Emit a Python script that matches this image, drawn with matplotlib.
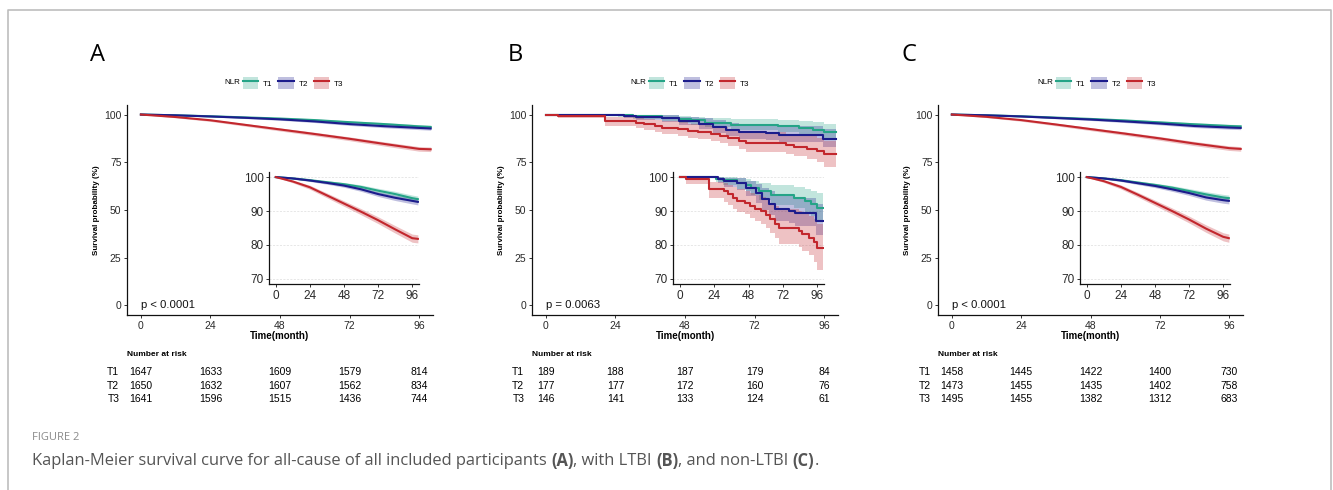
"""Kaplan-Meier curves by NLR tertile: all participants, LTBI, non-LTBI."""
import matplotlib
matplotlib.use("Agg")
import matplotlib.pyplot as plt
from matplotlib.lines import Line2D
from matplotlib.patches import Patch
from matplotlib.transforms import blended_transform_factory

W, H = 1333, 490

# ---- data ----
groups = ["T1", "T2", "T3"]
colors = ["#25A487", "#1C1C8C", "#C2272D"]
x_ticks = [0, 24, 48, 72, 96]

# panels A and C: many events, curves read every 12 months
t_grid = [0, 12, 24, 36, 48, 60, 72, 84, 96, 100]

a_t1 = [100, 99.6, 99.1, 98.5, 97.9, 97.1, 96.0, 95.0, 93.8, 93.5]
a_t1_lo = [100, 99.4, 98.8, 98.1, 97.4, 96.5, 95.3, 94.2, 92.9, 92.6]
a_t1_hi = [100, 99.8, 99.4, 98.9, 98.4, 97.7, 96.7, 95.8, 94.7, 94.4]
a_t2 = [100, 99.6, 99.0, 98.3, 97.5, 96.4, 95.0, 93.9, 93.0, 92.7]
a_t2_lo = [100, 99.4, 98.7, 97.9, 97.0, 95.8, 94.3, 93.1, 92.1, 91.8]
a_t2_hi = [100, 99.8, 99.3, 98.7, 98.0, 97.0, 95.7, 94.7, 93.9, 93.6]
a_t3 = [100, 98.7, 97.0, 94.6, 92.2, 89.8, 87.3, 84.6, 82.0, 81.8]
a_t3_lo = [100, 98.3, 96.4, 93.9, 91.4, 88.9, 86.3, 83.5, 80.8, 80.6]
a_t3_hi = [100, 99.1, 97.6, 95.3, 93.0, 90.7, 88.3, 85.7, 83.2, 83.0]

c_t1 = [100, 99.6, 99.1, 98.4, 97.7, 96.9, 95.9, 94.9, 94.0, 93.8]
c_t1_lo = [100, 99.4, 98.8, 98.0, 97.2, 96.3, 95.2, 94.1, 93.1, 92.9]
c_t1_hi = [100, 99.8, 99.4, 98.8, 98.2, 97.5, 96.6, 95.7, 94.9, 94.7]
c_t2 = [100, 99.6, 99.0, 98.2, 97.4, 96.4, 95.3, 94.0, 93.2, 93.0]
c_t2_lo = [100, 99.4, 98.7, 97.8, 96.9, 95.8, 94.6, 93.2, 92.3, 92.1]
c_t2_hi = [100, 99.8, 99.3, 98.6, 97.9, 97.0, 96.0, 94.8, 94.1, 93.9]
c_t3 = [100, 98.8, 97.1, 94.8, 92.4, 90.0, 87.5, 84.8, 82.4, 82.0]
c_t3_lo = [100, 98.4, 96.5, 94.1, 91.6, 89.1, 86.5, 83.7, 81.2, 80.8]
c_t3_hi = [100, 99.2, 97.7, 95.5, 93.2, 90.9, 88.5, 85.9, 83.6, 83.2]

# panel B: few events, step changes read at event times
b_t1_time = [0, 25, 30, 40, 46, 50, 55, 64, 80, 87.5, 92, 96, 100]
b_t1 = [100, 99.5, 99.0, 98.4, 97.8, 96.9, 95.8, 94.7, 93.8, 92.9, 92.0, 90.8, 90.8]
b_t1_lo = [100, 98.5, 97.6, 96.6, 95.8, 94.6, 93.3, 91.9, 90.8, 89.7, 88.6, 87.0, 87.0]
b_t1_hi = [100, 100, 99.9, 99.6, 99.3, 98.9, 98.4, 97.6, 97.0, 96.4, 95.9, 95.3, 95.3]

b_t2_time = [0, 27, 31, 40, 46, 53, 57.5, 62, 66.5, 76, 80.5, 95.5, 100]
b_t2 = [100, 99.4, 98.8, 98.2, 96.8, 95.3, 93.5, 92.0, 90.7, 90.1, 89.4, 87.0, 87.0]
b_t2_lo = [100, 98.2, 97.1, 96.2, 94.4, 92.5, 90.4, 88.7, 87.2, 86.5, 85.7, 82.8, 82.8]
b_t2_hi = [100, 99.9, 99.8, 99.6, 98.9, 98.1, 96.9, 95.8, 94.8, 94.4, 93.8, 92.2, 92.2]

b_t3_time = [0, 4, 20.5, 31, 34, 37.5, 40, 45.5, 49, 52.5, 57, 60, 63, 66.5, 69,
             83, 85.5, 90, 93.5, 96, 100]
b_t3 = [100, 99.3, 96.6, 95.8, 94.9, 93.9, 93.1, 92.4, 91.4, 90.7, 89.9, 88.8,
        87.6, 86.3, 85.0, 84.2, 83.2, 82.1, 80.9, 79.2, 79.2]
b_t3_lo = [100, 98.0, 93.8, 92.8, 91.8, 90.7, 89.8, 89.0, 87.9, 87.1, 86.2, 84.9,
           83.6, 82.2, 80.4, 79.4, 78.2, 76.9, 75.0, 72.7, 72.7]
b_t3_hi = [100, 99.9, 98.7, 98.2, 97.6, 97.0, 96.4, 95.9, 95.2, 94.7, 94.1, 93.3,
           92.5, 91.6, 90.6, 90.0, 89.3, 88.5, 87.6, 86.3, 86.3]

# numbers at risk at 0, 24, 48, 72, 96 months
risk_a = [[1647, 1633, 1609, 1579, 814],
          [1650, 1632, 1607, 1562, 834],
          [1641, 1596, 1515, 1436, 744]]
risk_b = [[189, 188, 187, 179, 84],
          [177, 177, 172, 160, 76],
          [146, 141, 133, 124, 61]]
risk_c = [[1458, 1445, 1422, 1400, 730],
          [1473, 1455, 1435, 1402, 758],
          [1495, 1455, 1382, 1312, 683]]

p_labels = ["p < 0.0001", "p = 0.0063", "p < 0.0001"]
panel_letters = ["A", "B", "C"]

panels = [
    dict(step=False,
         curves=[(t_grid, a_t1, a_t1_lo, a_t1_hi), (t_grid, a_t2, a_t2_lo, a_t2_hi),
                 (t_grid, a_t3, a_t3_lo, a_t3_hi)],
         risk=risk_a, main=(127, 433), inset=(269, 419), letter_x=97, nlr_x=232),
    dict(step=True,
         curves=[(b_t1_time, b_t1, b_t1_lo, b_t1_hi), (b_t2_time, b_t2, b_t2_lo, b_t2_hi),
                 (b_t3_time, b_t3, b_t3_lo, b_t3_hi)],
         risk=risk_b, main=(532, 838), inset=(673, 824), letter_x=515, nlr_x=638),
    dict(step=False,
         curves=[(t_grid, c_t1, c_t1_lo, c_t1_hi), (t_grid, c_t2, c_t2_lo, c_t2_hi),
                 (t_grid, c_t3, c_t3_lo, c_t3_hi)],
         risk=risk_c, main=(938, 1243), inset=(1080, 1230), letter_x=909, nlr_x=1045),
]

plt.rcParams["font.family"] = ["Liberation Sans", "DejaVu Sans"]


def fx(px):
    return px / W


def fy(py):
    return 1 - py / H


def box(x0, x1, y_top, y_bot):
    return [fx(x0), fy(y_bot), fx(x1) - fx(x0), fy(y_top) - fy(y_bot)]


def draw_curves(ax, panel, lw):
    for (t, s, lo, hi), col in zip(panel["curves"], colors):
        if panel["step"]:
            ax.fill_between(t, lo, hi, step="post", color=col, alpha=0.28, lw=0)
            ax.step(t, s, where="post", color=col, lw=lw)
        else:
            ax.fill_between(t, lo, hi, color=col, alpha=0.28, lw=0)
            ax.plot(t, s, color=col, lw=lw)


def style_axes(ax, label_size):
    for side in ["top", "right"]:
        ax.spines[side].set_visible(False)
    for side in ["left", "bottom"]:
        ax.spines[side].set_linewidth(0.9)
        ax.spines[side].set_color("#111111")
    ax.tick_params(length=2.5, width=0.7, color="#333333", labelsize=label_size,
                   labelcolor="#2a2a2a", pad=1.5)


fig = plt.figure(figsize=(W / 100, H / 100), dpi=100)

# outer frame of the figure box
fig.add_artist(Line2D([fx(8), fx(8), fx(1331), fx(1331)], [0, fy(10), fy(10), 0],
                      transform=fig.transFigure, color="#bdbdbd", lw=1.2))

for i, panel in enumerate(panels):
    x0, x1 = panel["main"]
    ax = fig.add_axes(box(x0, x1, 105, 315))
    draw_curves(ax, panel, 1.5)
    ax.set_xlim(-4.8, 100.8)
    ax.set_ylim(-5, 105)
    ax.set_xticks(x_ticks)
    ax.set_yticks([0, 25, 50, 75, 100])
    style_axes(ax, 7.5)
    ax.set_xlabel("Time(month)", fontsize=7, fontweight="bold", labelpad=0)
    ax.set_ylabel("Survival probability (%)", fontsize=5.8, fontweight="bold", labelpad=3)
    ax.text(0, 0, p_labels[i], fontsize=8.2, ha="left", va="center", color="#111111")

    # inset zoom on 70-100 %
    ix0, ix1 = panel["inset"]
    ins = fig.add_axes(box(ix0, ix1, 172, 284))
    ins.set_facecolor("white")
    for yv in [70, 80, 90, 100]:
        ins.axhline(yv, color="#dddddd", lw=0.5, ls=(0, (3, 2)), zorder=0)
    draw_curves(ins, panel, 1.5)
    ins.set_xlim(-4.8, 100.8)
    ins.set_ylim(68.5, 101.5)
    ins.set_xticks(x_ticks)
    ins.set_yticks([70, 80, 90, 100])
    style_axes(ins, 8.5)

    # panel letter and legend
    fig.text(fx(panel["letter_x"]), fy(55), panel_letters[i], fontsize=17,
             family=["Open Sans", "DejaVu Sans"], ha="center", va="center")
    fig.text(fx(panel["nlr_x"]), fy(83), "NLR", fontsize=5.8, ha="center", va="center")
    handles = [(Patch(facecolor=c, alpha=0.28, edgecolor="none"), Line2D([], [], color=c, lw=1.5))
               for c in colors]
    fig.legend(handles, groups, loc="center left",
               bbox_to_anchor=(fx(panel["nlr_x"] + 11), fy(83)), ncol=3, frameon=False,
               fontsize=5.8, handlelength=1.9, handleheight=2.0, handletextpad=0.6,
               columnspacing=0.7, borderpad=0, borderaxespad=0)

    # risk table under the axis
    tr = blended_transform_factory(ax.transData, fig.transFigure)
    fig.text(-4.7, fy(354), "Number at risk", transform=tr, fontsize=6,
             fontweight="bold", ha="left", va="center")
    for r, (g, row) in enumerate(zip(groups, panel["risk"])):
        yy = fy(372 + 13.5 * r)
        fig.text(-9.5, yy, g, transform=tr, fontsize=7.5, ha="center", va="center")
        for t, n in zip(x_ticks, row):
            fig.text(t, yy, str(n), transform=tr, fontsize=7.5, ha="center", va="center")

# caption with bold panel references
fig.text(fx(32), fy(437), "FIGURE 2", fontsize=8, color="#8a8a8a",
         family=["Open Sans", "DejaVu Sans"], va="center")
pieces = [("Kaplan-Meier survival curve for all-cause of all included participants ", "normal"),
          ("(A)", "bold"), (", with LTBI ", "normal"), ("(B)", "bold"),
          (", and non-LTBI ", "normal"), ("(C)", "bold"), (".", "normal")]
renderer = fig.canvas.get_renderer()
x_cur = fx(32)
for txt, weight in pieces:
    t = fig.text(x_cur, fy(461), txt, fontsize=11.9, color="#555555", fontweight=weight,
                 family=["Open Sans", "DejaVu Sans"], va="center")
    x_cur += t.get_window_extent(renderer).width / W

fig.savefig("out.png", dpi=100)
